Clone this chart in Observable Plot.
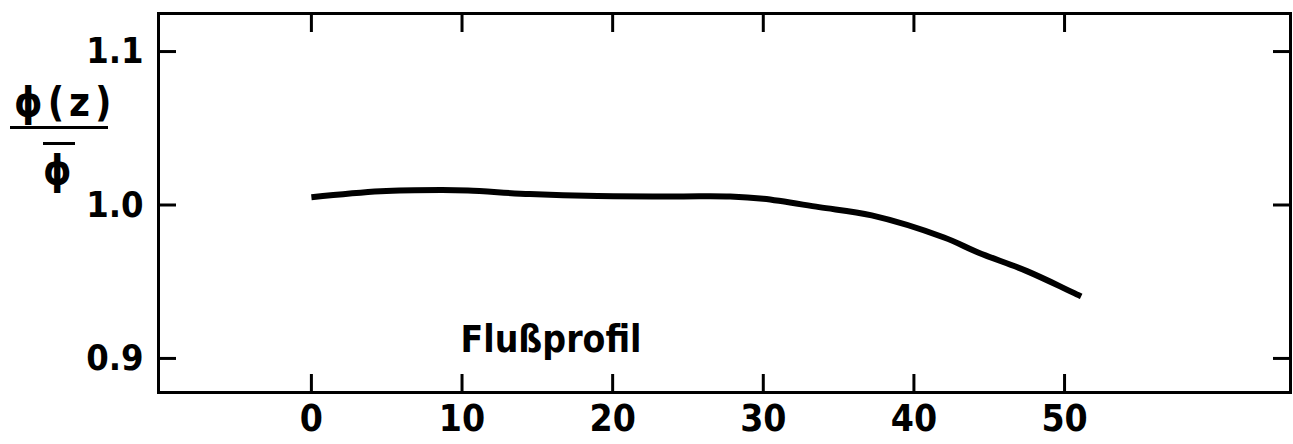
<!DOCTYPE html>
<html>
<head>
<meta charset="utf-8">
<script src="https://cdn.jsdelivr.net/npm/d3@7"></script>
<script src="https://cdn.jsdelivr.net/npm/@observablehq/plot@0.6"></script>
<style>
  html, body { margin: 0; padding: 0; background: #fff; }
  #wrap { position: relative; width: 1293px; height: 444px; }
  #chart svg text { font-family: "DejaVu Sans Condensed", "DejaVu Sans", sans-serif; font-stretch: condensed; }
  #ylab { position: absolute; left: 0; top: 0; width: 130px; height: 200px; font-family: "DejaVu Sans Condensed", "DejaVu Sans", sans-serif; font-stretch: condensed; font-weight: bold; color: #000; }
  #ylab .num { position: absolute; left: 14px; top: 82px; font-size: 40px; line-height: 40px; letter-spacing: 5px; }
  #ylab .bar { position: absolute; left: 10px; top: 126px; width: 98px; height: 3px; background: #000; }
  #ylab .den { position: absolute; left: 43px; top: 150px; font-size: 40px; line-height: 40px; }
  #ylab .ovl { position: absolute; left: 43px; top: 142px; width: 32px; height: 3px; background: #000; }
</style>
</head>
<body>
<div id="wrap">
  <div id="chart"></div>
  <div id="ylab">
    <div class="num">ϕ(z)</div>
    <div class="bar"></div>
    <div class="ovl"></div>
    <div class="den">ϕ</div>
  </div>
</div>
<script>
// Flux profile Φ(z)/Φ̄ versus z
const z     = [0,     4.6,   8.6,   10.4,  14.5,  19.0,  24.5,  27.8,  30.0,  33.7,  37.2,  42.0,  44.3,  47.5,  51.1];
const ratio = [1.005, 1.0089,1.0097,1.0094,1.0071,1.0058,1.0056,1.0055,1.0040,0.9986,0.9932,0.9788,0.9689,0.9569,0.9404];
const xTicks = [0, 10, 20, 30, 40, 50];
const yTicks = [0.9, 1.0, 1.1];
const curveLabel = "Flußprofil";

const data = z.map((v, i) => ({z: v, r: ratio[i]}));

const chart = Plot.plot({
  width: 1293,
  height: 444,
  marginLeft: 158,
  marginRight: 3,
  marginTop: 13,
  marginBottom: 52,
  style: {fontSize: "36px", color: "#000", background: "#fff", overflow: "visible"},
  x: {domain: [-10.15, 65.0], axis: null},
  y: {domain: [0.8778, 1.1248], axis: null},
  marks: [
    Plot.frame({stroke: "#000", strokeWidth: 3}),
    // inward ticks
    Plot.axisX(xTicks, {anchor: "bottom", tickSize: -18, strokeWidth: 3, tickFormat: () => "", label: null}),
    Plot.axisX(xTicks, {anchor: "top", tickSize: -18, strokeWidth: 3, tickFormat: () => "", label: null}),
    Plot.axisY(yTicks, {anchor: "left", tickSize: -18, strokeWidth: 3, tickFormat: () => "", label: null}),
    Plot.axisY(yTicks, {anchor: "right", tickSize: -18, strokeWidth: 3, tickFormat: () => "", label: null}),
    // labels
    Plot.axisX(xTicks, {anchor: "bottom", tickSize: 0, tickPadding: 12, tickFormat: d3.format("d"), label: null, fontSize: 37, fontWeight: "bold"}),
    Plot.axisY(yTicks, {anchor: "left", tickSize: 0, tickPadding: 15, tickFormat: d3.format(".1f"), label: null, fontSize: 36, fontWeight: "bold"}),
    Plot.line(data, {x: "z", y: "r", curve: "catmull-rom", stroke: "#000", strokeWidth: 6, strokeLinecap: "butt"}),
    Plot.text([curveLabel], {x: 9.9, y: 0.912, text: d => d, textAnchor: "start", lineAnchor: "middle", fontSize: 37, fontWeight: "bold", fill: "#000"})
  ]
});
document.getElementById("chart").appendChild(chart);
</script>
</body>
</html>
